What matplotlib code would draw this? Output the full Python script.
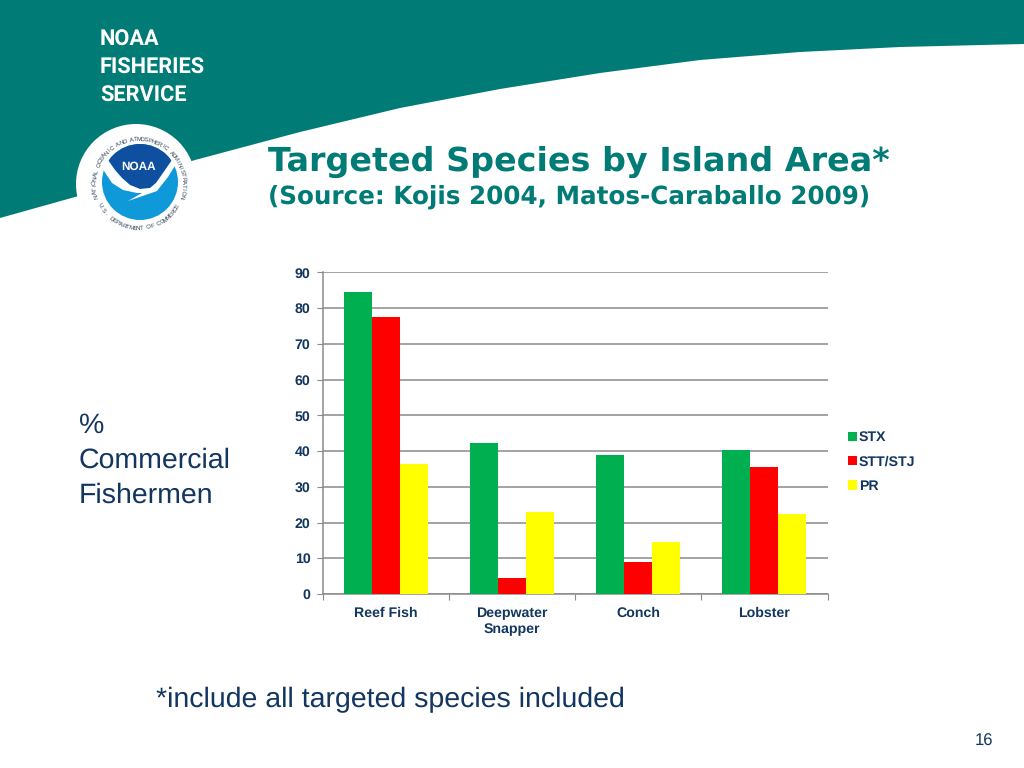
import numpy as np
import matplotlib
matplotlib.use("Agg")
import matplotlib.pyplot as plt
from matplotlib.patches import Circle, Polygon

categories = ["Reef Fish", "Deepwater\nSnapper", "Conch", "Lobster"]
stx = [84.6, 42.2, 39.0, 40.4]
stt_stj = [77.6, 4.5, 8.9, 35.6]
pr = [36.3, 22.9, 14.6, 22.4]
yticks = [0, 10, 20, 30, 40, 50, 60, 70, 80, 90]

W, H = 1024, 768
TEAL = "#007B76"
NAVY = "#12365F"
plt.rcParams["font.family"] = ["Liberation Sans", "DejaVu Sans"]
plt.rcParams["text.hinting"] = "no_hinting"

fig = plt.figure(figsize=(W / 100, H / 100), dpi=100, facecolor="white")

# slide background, drawn in pixel coords
bg = fig.add_axes([0, 0, 1, 1])
bg.set_xlim(0, W)
bg.set_ylim(H, 0)
bg.axis("off")
edge = [(0, 218), (100, 190), (195, 160), (300, 132), (400, 108), (500, 89),
        (600, 73), (700, 60), (800, 52), (900, 47), (1024, 44)]
bg.add_patch(Polygon([(0, 0), (1024, 0)] + edge[::-1], color=TEAL, lw=0))
bg.add_patch(Circle((136, 184), 60, color="white", lw=0))

# NOAA logo
cx, cy = 140, 182
disc = Circle((cx, cy), 38, color="#1099D8", lw=0, zorder=3)
bg.add_patch(disc)
dark = Polygon([(100, 140), (180, 140), (180, 160), (172, 160), (163, 173), (156, 183), (150, 188),
                (140, 189), (130, 185), (122, 178), (115, 170), (108, 160), (100, 160)],
               color="#0F4FA0", lw=0, zorder=3)
bg.add_patch(dark)
dark.set_clip_path(disc)
bg.add_patch(Polygon([(102, 168), (108, 160), (115, 170), (122, 178), (130, 185), (140, 189),
                      (150, 188), (156, 183), (163, 173), (172, 160), (176, 164), (168, 177),
                      (160, 187), (157, 191), (128, 201), (142, 193), (137, 193), (123, 190),
                      (112, 183)],
                     color="white", lw=0, zorder=4))
bg.text(139, 167, "NOAA", color="white", fontsize=8.5, fontweight="bold",
        ha="center", va="center", zorder=5)

ring_top = "NATIONAL OCEANIC AND ATMOSPHERIC ADMINISTRATION"
ring_bot = "U.S. DEPARTMENT OF COMMERCE"
for i, ch in enumerate(ring_top):
    a = np.radians(-196 + 212 * i / (len(ring_top) - 1))
    bg.text(139 + 44.5 * np.cos(a), 184 + 44.5 * np.sin(a), ch, fontsize=4.4, color="#33475B",
            rotation=-np.degrees(a) - 90, ha="center", va="center", rotation_mode="anchor")
for i, ch in enumerate(ring_bot):
    a = np.radians(152 - 122 * i / (len(ring_bot) - 1))
    bg.text(139 + 44.5 * np.cos(a), 184 + 44.5 * np.sin(a), ch, fontsize=4.4, color="#33475B",
            rotation=90 - np.degrees(a), ha="center", va="center", rotation_mode="anchor")

# header text
for y, s in zip([40, 68, 96], ["NOAA", "FISHERIES", "SERVICE"]):
    bg.text(100, y, s, color="white", fontsize=15.7, fontweight="bold", va="center",
            family=["Roboto", "Liberation Sans"])
bg.text(268, 162, "Targeted Species by Island Area*", color=TEAL, fontsize=24.0,
        fontweight="bold", va="center", family="DejaVu Sans")
bg.text(268, 197, "(Source: Kojis 2004, Matos-Caraballo 2009)", color=TEAL, fontsize=17.75,
        fontweight="bold", va="center", family="DejaVu Sans")
for y, s in zip([426, 460, 495], ["%", "Commercial", "Fishermen"]):
    bg.text(79, y, s, color=NAVY, fontsize=20.5, va="center")
bg.text(156, 700, "*include all targeted species included", color=NAVY, fontsize=20.5,
        va="center")
bg.text(984, 741, "16", color=NAVY, fontsize=12, ha="center", va="center")

# the chart
ax = fig.add_axes([323 / W, 1 - 594 / H, 504.5 / W, 321.5 / H])
x = np.arange(len(categories))
w = 28 / 126
ax.bar(x - w, stx, w, color="#00AF50", label="STX", zorder=3)
ax.bar(x, stt_stj, w, color="#FF0000", label="STT/STJ", zorder=3)
ax.bar(x + w, pr, w, color="#FFFF00", label="PR", zorder=3)

ax.set_xlim(-0.5, 3.5)
ax.set_ylim(0, 90)
ax.set_yticks(yticks)
ax.yaxis.grid(True, color="#8A8A8A", lw=1.1, zorder=0)
ax.set_axisbelow(True)
ax.set_xticks(np.arange(-0.5, 4, 1))
ax.set_xticklabels([])
ax.set_xticks(x, minor=True)
ax.set_xticklabels(categories, minor=True, fontsize=10.2, fontweight="bold", color=NAVY,
                   linespacing=1.3)
ax.tick_params(axis="x", which="minor", length=0, pad=9)
ax.tick_params(axis="x", which="major", length=4, color="#8A8A8A", direction="out")
ax.tick_params(axis="y", length=4, color="#8A8A8A", labelsize=10.2, labelcolor=NAVY, pad=5)
for lab in ax.get_yticklabels():
    lab.set_fontweight("bold")
for s in ["top", "right"]:
    ax.spines[s].set_visible(False)
for s in ["left", "bottom"]:
    ax.spines[s].set_color("#8A8A8A")
    ax.spines[s].set_linewidth(1.1)

leg = ax.legend(loc="upper left", bbox_to_anchor=(848 / W, 1 - 431 / H),
                bbox_transform=fig.transFigure, frameon=False, handlelength=0.62,
                handleheight=0.62, handletextpad=0.15, labelspacing=0.8,
                borderpad=0, borderaxespad=0,
                prop={"size": 10.2, "weight": "bold"})
for t in leg.get_texts():
    t.set_color(NAVY)

fig.savefig("out.png", dpi=100)
